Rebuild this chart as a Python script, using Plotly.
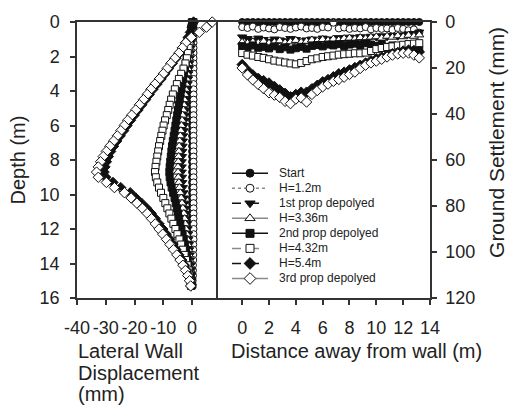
import plotly.graph_objects as go

# ---------------- data ----------------
series_names = ["Start", "H=1.2m", "1st prop depolyed", "H=3.36m",
                "2nd prop depolyed", "H=4.32m", "H=5.4m", "3rd prop depolyed"]

# Left panel: depth (m) and lateral wall displacement (mm)
depth = [0.0, 0.3, 0.6, 0.9, 1.2, 1.5, 1.8, 2.1, 2.4, 2.7,
         3.0, 3.3, 3.6, 3.9, 4.2, 4.5, 4.8, 5.1, 5.4, 5.7,
         6.0, 6.3, 6.6, 6.9, 7.2, 7.5, 7.8, 8.1, 8.4, 8.7,
         9.0, 9.3, 9.6, 9.9, 10.2, 10.5, 10.8, 11.1, 11.4, 11.7,
         12.0, 12.3, 12.6, 12.9, 13.2, 13.5, 13.8, 14.1, 14.4, 14.7,
         15.0, 15.3]

disp_start = [0.0, 0.0, 0.0, 0.0, 0.0, 0.0, 0.0, 0.0, 0.0, 0.0,
              0.0, 0.0, 0.0, 0.0, 0.0, 0.0, 0.0, 0.0, 0.0, 0.0,
              0.0, 0.0, 0.0, 0.0, 0.0, 0.0, 0.0, 0.0, 0.0, 0.0,
              0.0, 0.0, 0.0, 0.0, 0.0, 0.0, 0.0, 0.0, 0.0, 0.0,
              0.0, 0.0, 0.0, 0.0, 0.0, 0.0, 0.0, 0.0, 0.0, 0.0,
              0.0, 0.0]
disp_h12 = [0.4, 0.4, 0.5, 0.5, 0.5, 0.5, 0.5, 0.5, 0.5, 0.5,
            0.5, 0.5, 0.5, 0.5, 0.5, 0.5, 0.5, 0.5, 0.5, 0.5,
            0.5, 0.5, 0.5, 0.5, 0.5, 0.5, 0.5, 0.5, 0.5, 0.5,
            0.5, 0.5, 0.5, 0.5, 0.5, 0.5, 0.5, 0.5, 0.5, 0.5,
            0.5, 0.5, 0.5, 0.4, 0.4, 0.4, 0.4, 0.3, 0.3, 0.3,
            0.2, 0.2]
disp_p1 = [0.0, 0.0, -0.1, -0.2, -0.4, -0.5, -0.7, -0.8, -1.0, -1.1,
           -1.3, -1.4, -1.6, -1.7, -1.9, -2.0, -2.2, -2.3, -2.5, -2.6,
           -2.8, -2.9, -3.1, -3.2, -3.3, -3.4, -3.5, -3.6, -3.6, -3.6,
           -3.5, -3.4, -3.2, -3.0, -2.8, -2.6, -2.4, -2.2, -2.0, -1.8,
           -1.6, -1.4, -1.3, -1.1, -1.0, -0.8, -0.7, -0.5, -0.4, -0.3,
           -0.2, -0.1]
disp_h336 = [0.2, 0.1, -0.1, -0.3, -0.5, -0.7, -0.9, -1.1, -1.3, -1.5,
             -1.7, -1.9, -2.1, -2.3, -2.5, -2.7, -2.9, -3.1, -3.3, -3.5,
             -3.7, -3.9, -4.1, -4.3, -4.5, -4.6, -4.7, -4.8, -4.9, -4.9,
             -4.8, -4.6, -4.4, -4.1, -3.8, -3.5, -3.2, -2.9, -2.6, -2.4,
             -2.2, -1.9, -1.7, -1.5, -1.3, -1.1, -0.9, -0.7, -0.5, -0.4,
             -0.3, -0.2]
disp_p2 = [0.0, -0.2, -0.4, -0.7, -1.0, -1.3, -1.6, -1.9, -2.2, -2.5,
           -2.8, -3.1, -3.4, -3.7, -4.0, -4.3, -4.6, -4.9, -5.2, -5.5,
           -5.8, -6.1, -6.4, -6.7, -7.0, -7.2, -7.4, -7.6, -7.8, -7.9,
           -7.8, -7.5, -7.1, -6.6, -6.1, -5.7, -5.3, -4.9, -4.5, -4.1,
           -3.7, -3.3, -2.9, -2.5, -2.1, -1.8, -1.5, -1.2, -0.9, -0.6,
           -0.4, -0.2]
disp_h432 = [0.5, 0.2, -0.2, -0.6, -0.9, -1.2, -1.5, -1.8, -2.3, -3.0,
             -3.8, -4.6, -5.3, -6.0, -6.7, -7.3, -7.8, -8.3, -8.8, -9.4,
             -9.9, -10.3, -10.7, -11.1, -11.5, -11.8, -12.1, -12.4, -12.7, -12.9,
             -12.6, -12.1, -11.5, -10.8, -10.0, -9.3, -8.6, -7.9, -7.2, -6.5,
             -5.8, -5.1, -4.4, -3.8, -3.2, -2.6, -2.1, -1.6, -1.2, -0.9,
             -0.6, -0.4]
disp_h54 = [0.5, 0.0, -0.6, -1.4, -2.3, -3.3, -4.4, -5.6, -6.9, -8.2,
            -9.5, -10.8, -12.2, -13.6, -14.9, -16.2, -17.5, -18.8, -20.1, -21.4,
            -22.6, -23.8, -25.0, -26.2, -27.3, -28.3, -29.1, -29.8, -30.3, -30.6,
            -30.0, -27.5, -24.8, -21.5, -19.6, -17.6, -15.8, -14.2, -12.8, -11.5,
            -10.2, -9.0, -7.8, -6.7, -5.6, -4.6, -3.6, -2.7, -1.9, -1.2,
            -0.7, -0.4]
disp_p3 = [7.0, 5.0, 2.5, -0.3, -2.2, -3.4, -4.6, -6.0, -7.4, -8.7,
           -10.0, -11.4, -12.9, -14.3, -15.6, -16.9, -18.3, -19.6, -21.0, -22.4,
           -23.6, -24.8, -26.0, -27.3, -28.6, -29.8, -30.9, -31.8, -32.6, -33.2,
           -32.6, -29.8, -27.0, -23.5, -21.2, -19.2, -17.3, -15.6, -14.1, -12.8,
           -11.5, -10.2, -8.9, -7.7, -6.5, -5.3, -4.2, -3.2, -2.3, -1.5,
           -0.9, -0.5]

# Right panel: distance from wall (m) and ground settlement (mm)
dist = [0.0, 0.4, 0.8, 1.2, 1.6, 2.0, 2.4, 2.8, 3.2, 3.6,
        4.0, 4.4, 4.8, 5.2, 5.6, 6.0, 6.4, 6.8, 7.2, 7.6,
        8.0, 8.4, 8.8, 9.2, 9.6, 10.0, 10.4, 10.8, 11.2, 11.6,
        12.0, 12.4, 12.8, 13.2]

set_start = [0.0, 0.0, 0.0, 0.0, 0.0, 0.0, 0.0, 0.0, 0.0, 0.0,
             0.0, 0.0, 0.0, 0.0, 0.0, 0.0, 0.0, 0.0, 0.0, 0.0,
             0.0, 0.0, 0.0, 0.0, 0.0, 0.0, 0.0, 0.0, 0.0, 0.0,
             0.0, 0.0, 0.0, 0.0]
set_h12 = [2.2, 2.6, 2.0, 3.0, 2.4, 2.8, 3.2, 2.2, 2.6, 3.0,
           2.4, 2.0, 2.8, 2.6, 3.0, 2.2, 2.4, 0.3, 2.8, 2.4,
           3.0, 2.6, 2.8, 2.2, 3.2, 2.6, 3.0, 2.8, 3.4, 2.6,
           3.0, 3.6, 3.2, 4.6]
set_p1 = [6.5, 7.2, 8.0, 7.0, 7.6, 8.4, 7.4, 7.8, 8.2, 7.2,
          7.6, 8.6, 7.8, 7.4, 8.0, 7.0, 7.4, 7.8, 6.8, 7.2,
          6.6, 7.0, 6.4, 6.8, 6.2, 6.6, 6.0, 6.4, 5.8, 6.2,
          5.6, 5.2, 5.0, 4.4]
set_h336 = [8.8, 9.2, 8.6, 9.0, 8.4, 9.2, 8.8, 8.2, 9.0, 8.6,
            8.0, 8.8, 8.4, 7.8, 8.2, 7.6, 8.0, 7.4, 7.8, 7.2,
            7.0, 7.4, 6.8, 7.2, 6.6, 6.4, 7.0, 6.2, 6.6, 6.0,
            6.4, 5.8, 6.2, 5.6]
set_p2 = [10.5, 11.0, 10.2, 11.2, 10.8, 11.5, 10.6, 11.8, 11.0, 12.0,
          11.4, 10.8, 11.6, 10.4, 10.0, 10.6, 9.8, 10.2, 9.6, 10.4,
          9.8, 9.4, 10.0, 9.2, 9.8, 10.4, 9.6, 10.8, 10.2, 11.0,
          10.6, 11.4, 11.8, 12.0]
set_h432 = [13.5, 14.2, 14.6, 15.2, 15.6, 16.2, 16.8, 17.2, 17.6, 18.0,
            18.4, 17.8, 17.0, 16.2, 15.8, 15.2, 14.9, 14.6, 14.2, 14.0,
            13.8, 13.6, 13.6, 13.3, 12.6, 11.8, 11.3, 10.9, 10.6, 10.2,
            9.9, 9.6, 9.4, 9.2]
set_h54 = [18.5, 21.0, 23.0, 24.5, 25.5, 26.5, 28.0, 29.5, 31.0, 32.5,
           31.5, 30.5, 30.5, 29.0, 27.5, 26.0, 25.0, 23.8, 22.5, 21.8,
           20.8, 19.8, 18.8, 17.8, 16.8, 16.0, 15.2, 14.5, 13.8, 13.2,
           12.6, 12.2, 12.4, 13.0]
set_p3 = [20.0, 23.0, 25.2, 27.2, 29.0, 30.8, 31.8, 32.8, 34.5, 35.5,
          33.5, 33.0, 34.8, 31.5, 29.8, 28.2, 27.0, 25.8, 25.0, 24.0,
          22.8, 21.8, 20.2, 18.8, 17.8, 17.0, 16.2, 15.2, 14.4, 13.9,
          13.6, 13.5, 14.4, 15.6]

wall_data = [disp_start, disp_h12, disp_p1, disp_h336, disp_p2, disp_h432, disp_h54, disp_p3]
settle_data = [set_start, set_h12, set_p1, set_h336, set_p2, set_h432, set_h54, set_p3]

left_ticks = [-40, -30, -20, -10, 0]
left_ticktext = ["-40", "-30", "-20", "-10", "0"]
right_x_ticks = [0, 2, 4, 6, 8, 10, 12, 14]
depth_ticks = [0, 2, 4, 6, 8, 10, 12, 14, 16]
settle_ticks = [0, 20, 40, 60, 80, 100, 120]

# legend key layout (row index per series, key segment from 0 to 1, label at 1.25)
legend_rows = [0, 1, 2, 3, 4, 5, 6, 7]
legend_seg = [0.0, 0.5, 1.0]
legend_label_x = 1.25

# ---------------- styles ----------------
BLK = "#111111"
GRY = "#8a8a8a"
styles = [
    dict(symbol="circle", fill=BLK, size=7, lc=BLK, dash="solid"),
    dict(symbol="circle", fill="white", size=7, lc=GRY, dash="dot"),
    dict(symbol="triangle-down", fill=BLK, size=8, lc=BLK, dash="dash"),
    dict(symbol="triangle-up", fill="white", size=8, lc=GRY, dash="solid"),
    dict(symbol="square", fill=BLK, size=7, lc=BLK, dash="solid"),
    dict(symbol="square", fill="white", size=7, lc=GRY, dash="dash"),
    dict(symbol="diamond", fill=BLK, size=8, lc=BLK, dash="dash"),
    dict(symbol="diamond", fill="white", size=8, lc=GRY, dash="solid"),
]

fig = go.Figure()
for i, name in enumerate(series_names):
    s = styles[i]
    common = dict(
        mode="lines+markers",
        name=name,
        legendgroup=name,
        cliponaxis=False,
        showlegend=False,
        line=dict(color=s["lc"], width=1, dash=s["dash"]),
        marker=dict(symbol=s["symbol"], size=s["size"], color=s["fill"],
                    line=dict(color=BLK, width=1)),
    )
    fig.add_trace(go.Scatter(x=wall_data[i], y=depth, xaxis="x", yaxis="y", **common))
    fig.add_trace(go.Scatter(x=dist, y=settle_data[i], xaxis="x2", yaxis="y2", **common))

# legend keys drawn on a hidden helper axis
for i, name in enumerate(series_names):
    s = styles[i]
    r = legend_rows[i]
    fig.add_trace(go.Scatter(
        x=legend_seg, y=[r] * len(legend_seg), xaxis="x3", yaxis="y3",
        mode="lines+markers", showlegend=False, cliponaxis=False, hoverinfo="skip",
        line=dict(color=s["lc"], width=1.5, dash=s["dash"]),
        marker=dict(symbol=s["symbol"], size=s["size"] + 1, color=s["fill"],
                    opacity=[0, 1, 0], line=dict(color=BLK, width=1)),
    ))

# ---------------- layout ----------------
W, H = 509, 407
L, R, T, B = 77, 430, 15, 298
def px_x(x):
    return (x - L) / (R - L)
def px_y(y):
    return (B - y) / (B - T)

split = px_x(218)
FONT = "Liberation Sans, Arial, sans-serif"
TXT = "#222222"
axis_common = dict(showline=True, linecolor="#333333", linewidth=1.5,
                   ticks="outside", ticklen=5, tickwidth=1.5, tickcolor="#333333",
                   showgrid=False, zeroline=False, tickangle=0,
                   tickfont=dict(size=18, color=TXT, family=FONT))

# helper axis for legend: key segment occupies px 232..268, rows at px 170..278
key_px0, key_px1, leg_right = 232, 268, 420
row_top, row_bot = 170, 278
row_h = (row_bot - row_top) / 7
fig.update_layout(
    width=W, height=H,
    margin=dict(l=L, r=W - R, t=T, b=H - B, pad=0),
    paper_bgcolor="white", plot_bgcolor="white",
    font=dict(family=FONT, color=TXT),
    showlegend=False,
    xaxis=dict(domain=[0, split], anchor="y", range=[-40, 9], mirror=True,
               tickvals=left_ticks, ticktext=left_ticktext, ticklabelstandoff=8,
               **axis_common),
    yaxis=dict(domain=[0, 1], anchor="x", range=[16, 0], mirror=False,
               tickvals=depth_ticks, ticklabelstandoff=7, **axis_common),
    xaxis2=dict(domain=[split, 1], anchor="y2", range=[-1.8, 14], mirror=True,
                tickvals=right_x_ticks, ticklabelstandoff=8, **axis_common),
    yaxis2=dict(domain=[0, 1], anchor="x2", side="right", range=[120, 0], mirror=True,
                tickvals=settle_ticks, ticklabelstandoff=5, **axis_common),
    xaxis3=dict(domain=[px_x(key_px0), px_x(leg_right)], anchor="y3",
                range=[0, (leg_right - key_px0) / (key_px1 - key_px0)], visible=False),
    yaxis3=dict(domain=[px_y(row_bot + row_h), px_y(row_top - row_h)], anchor="x3",
                range=[8, -1], visible=False),
)

ann = [
    dict(text="Lateral Wall", x=px_x(76), y=px_y(352), xanchor="left", yanchor="middle"),
    dict(text="Displacement", x=px_x(76), y=px_y(375), xanchor="left", yanchor="middle"),
    dict(text="(mm)", x=px_x(76), y=px_y(396), xanchor="left", yanchor="middle"),
    dict(text="Distance away from wall (m)", x=px_x(229), y=px_y(352),
         xanchor="left", yanchor="middle"),
    dict(text="Depth (m)", x=px_x(18), y=px_y(157), textangle=-90,
         xanchor="center", yanchor="middle"),
    dict(text="Ground Settlement (mm)", x=px_x(497), y=px_y(138), textangle=-90,
         xanchor="center", yanchor="middle", size=21),
]
for a in ann:
    sz = a.pop("size", 20)
    a.update(xref="paper", yref="paper", showarrow=False,
             font=dict(size=sz, family=FONT, color=TXT))

for i, name in enumerate(series_names):
    ann.append(dict(text=name, x=legend_label_x, y=legend_rows[i], xref="x3", yref="y3",
                    xanchor="left", yanchor="middle", showarrow=False,
                    font=dict(size=12, family=FONT, color=TXT)))
fig.update_layout(annotations=ann)

fig.write_html("out.html")
